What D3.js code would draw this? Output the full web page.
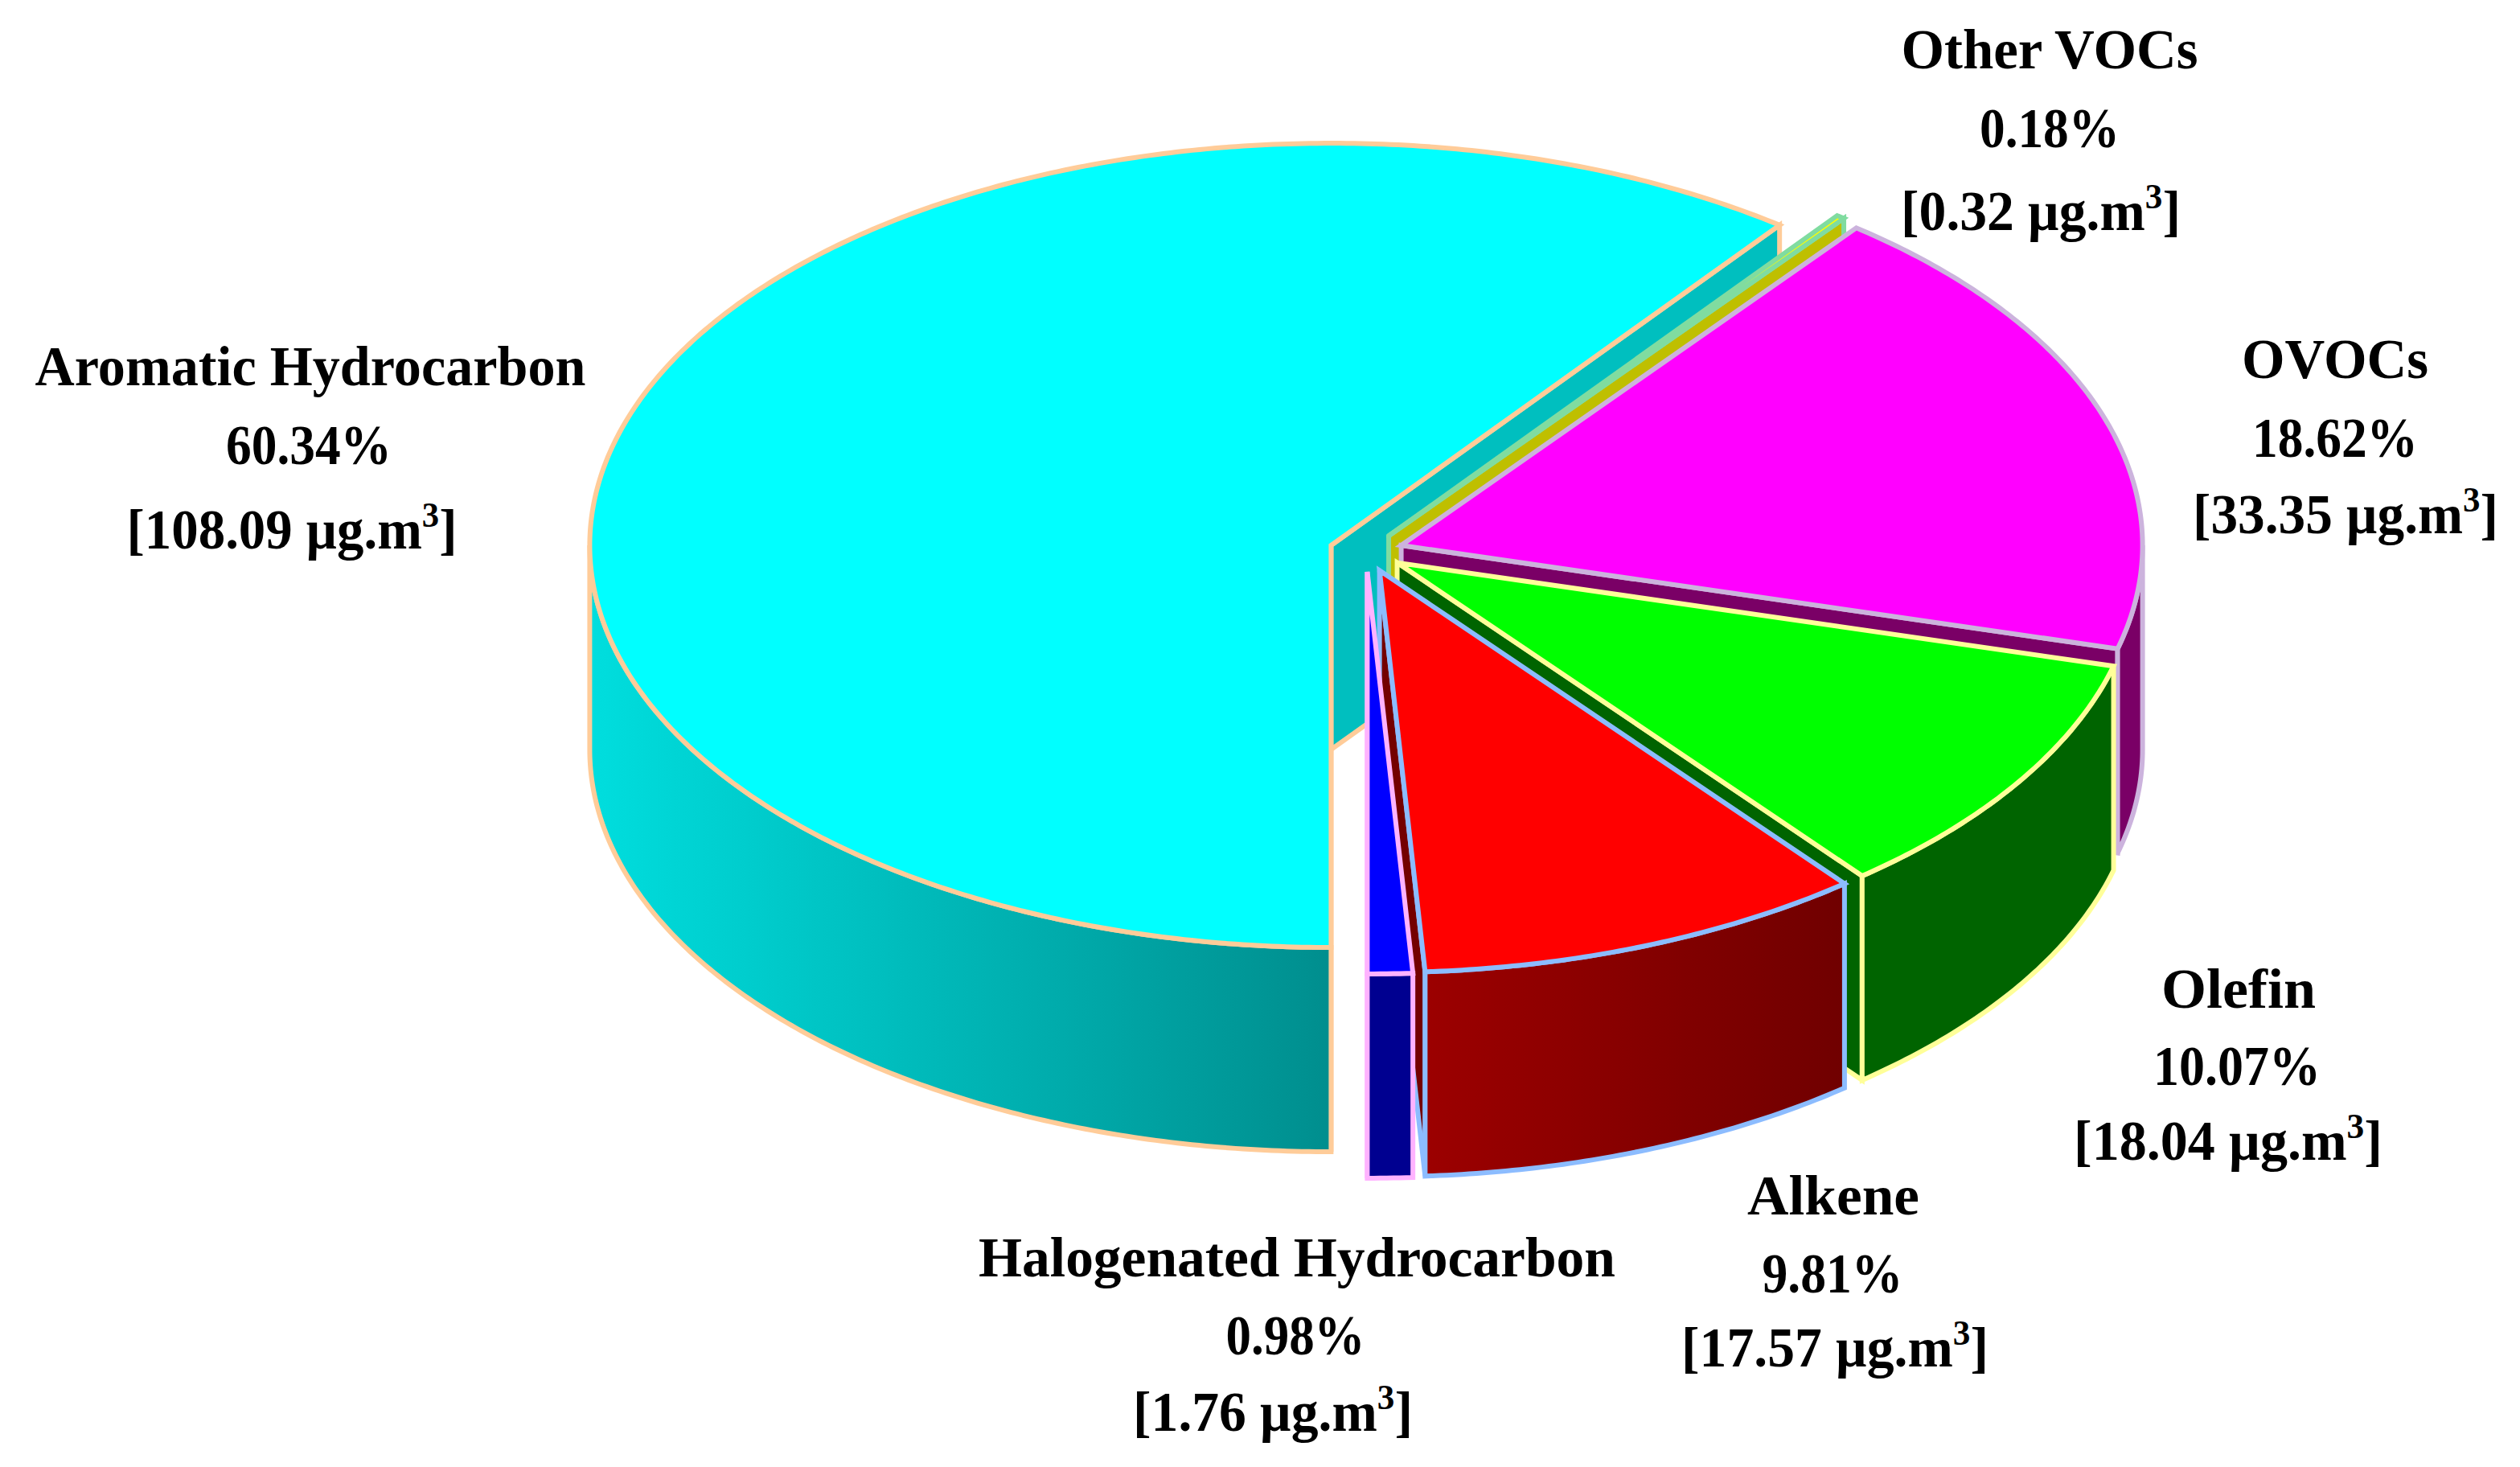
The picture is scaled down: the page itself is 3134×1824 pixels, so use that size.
<!DOCTYPE html>
<html>
<head>
<meta charset="utf-8">
<script src="https://d3js.org/d3.v7.min.js"></script>
<style>
html,body{margin:0;padding:0;background:#fff}
svg{display:block}
text{font-family:"Liberation Serif",serif;font-weight:700;fill:#000;text-anchor:middle}
</style>
</head>
<body>
<svg id="chart" width="3134" height="1824"></svg>
<script>
// ---- data ----
const categories = ["Aromatic Hydrocarbon","Other VOCs","OVOCs","Olefin","Alkene","Halogenated Hydrocarbon"];
const percents   = [60.34,0.18,18.62,10.07,9.81,0.98];
const masses     = ["108.09","0.32","33.35","18.04","17.57","1.76"];
// ---- styles ----
const topColors    = ["#00ffff","#ffff00","#ff00ff","#00ff00","#ff0000","#0000ff"];
const cutColors    = ["#00bfbf","#bfbf00","#7a0066","#006400","#740000","#000090"];
const wallFrom     = ["#00dede","#bfbf00","#7a0066","#006400","#9c0000","#000090"];
const wallTo       = ["#008e8e","#bfbf00","#7a0066","#006400","#700000","#000090"];
const strokeColors = ["#ffcc99","#80dca0","#ccb3dd","#ffff99","#8cbcff","#ffb3ff"];
// ---- layout ----
const cx=1699, cy=686, rx=922, ry=500, depth=254, explode=46, sw=6;
const labelX     = [[386,384,363],[2549,2549,2538],[2904,2904,2917],[2784,2782,2771],[2280,2279,2282],[1613,1611,1583]];
const labelY     = [[479,577,682],[85,183,286],[470,568,663],[1253,1349,1442],[1510,1607,1699],[1587,1684,1779]];
const labelW     = [[685,206,411],[369,174,348],[232,206,380],[192,208,384],[214,175,382],[792,173,348]];
const labelSize  = 69;

const svg = d3.select("#chart");
const defs = svg.append("defs");

const pie = d3.pie().sort(null).startAngle(Math.PI).endAngle(3*Math.PI);
const arcs = pie(percents).map(d=>{
  const turn = d.startAngle>=2*Math.PI-1e-9 ? 2*Math.PI : 0;
  return {...d,startAngle:d.startAngle-turn,endAngle:d.endAngle-turn};
});

const xs = d3.scaleLinear().domain([-1,1]).range([-rx,rx]);
const ys = d3.scaleLinear().domain([-1,1]).range([-ry,ry]);
const line = d3.line();

arcs.forEach((d,i)=>{
  const mid=(d.startAngle+d.endAngle)/2;
  const ox=cx+xs(Math.sin(mid))*explode/rx;
  const oy=cy-ys(Math.cos(mid))*explode/rx;
  const pt=(t,dz=0)=>[ox+xs(Math.sin(t)), oy-ys(Math.cos(t))+dz];
  const apex=(dz=0)=>[ox,oy+dz];
  const samples=(a,b)=>{
    const n=Math.max(2,Math.ceil(Math.abs(b-a)/0.01));
    return d3.range(n+1).map(k=>a+(b-a)*k/n);
  };
  const g=svg.append("g").attr("class","slice").attr("data-name",categories[i])
    .attr("stroke",strokeColors[i]).attr("stroke-width",sw).attr("stroke-linejoin","miter");

  // cut faces
  const face=(t,fill)=>g.append("path")
    .attr("d",line([apex(),pt(t),pt(t,depth),apex(depth)])+"Z").attr("fill",fill);
  if(Math.sin(d.startAngle)<=1e-9) face(d.startAngle,cutColors[i]);
  if(Math.sin(d.endAngle)>=-1e-9) face(d.endAngle,cutColors[i]);

  // outer wall: only the front half (PI/2 .. 3PI/2) can be seen
  const w0=Math.max(d.startAngle,Math.PI/2), w1=Math.min(d.endAngle,1.5*Math.PI);
  if(w1>w0){
    const ts=samples(w0,w1);
    const gid="wall"+i;
    const xa=d3.extent(ts,t=>pt(t)[0]);
    const grad=defs.append("linearGradient").attr("id",gid).attr("gradientUnits","userSpaceOnUse")
      .attr("x1",xa[0]).attr("x2",xa[1]).attr("y1",0).attr("y2",0);
    grad.append("stop").attr("offset",0).attr("stop-color",wallFrom[i]);
    grad.append("stop").attr("offset",1).attr("stop-color",wallTo[i]);
    const pts=ts.map(t=>pt(t)).concat(ts.slice().reverse().map(t=>pt(t,depth)));
    g.append("path").attr("d",line(pts)+"Z").attr("fill",`url(#${gid})`);
  }
  // top
  const tops=[apex()].concat(samples(d.startAngle,d.endAngle).map(t=>pt(t)));
  g.append("path").attr("d",line(tops)+"Z").attr("fill",topColors[i]);
});

// labels: each line is squeezed to the width it has in the picture
function fit(sel,x,w){
  const len=sel.node().getComputedTextLength();
  sel.attr("x",0).attr("transform",`translate(${x},0) scale(${w/len},1)`);
}
categories.forEach((c,i)=>{
  const g=svg.append("g").attr("class","label");
  const a=g.append("text").attr("y",labelY[i][0]).attr("font-size",labelSize).text(c);
  fit(a,labelX[i][0],labelW[i][0]);
  const b=g.append("text").attr("y",labelY[i][1]).attr("font-size",labelSize).text(percents[i].toFixed(2)+"%");
  fit(b,labelX[i][1],labelW[i][1]);
  const t=g.append("text").attr("y",labelY[i][2]).attr("font-size",labelSize);
  t.append("tspan").text("["+masses[i]+" µg.m");
  t.append("tspan").attr("dy",-27).attr("font-size",44).text("3");
  t.append("tspan").attr("dy",27).text("]");
  fit(t,labelX[i][2],labelW[i][2]);
});
</script>
</body>
</html>
